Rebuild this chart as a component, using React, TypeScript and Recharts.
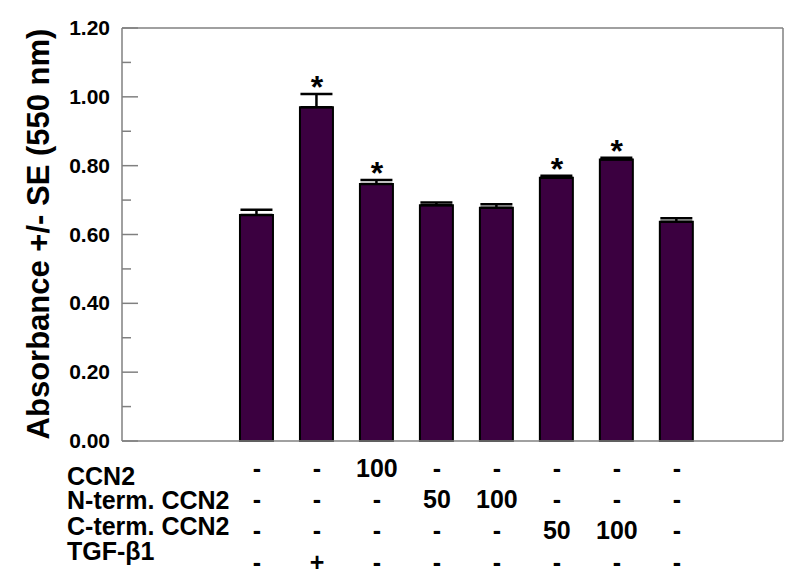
import React from 'react';
import { ComposedChart, Bar, Line, XAxis, YAxis, ErrorBar, ReferenceLine } from 'recharts';

const positions = [0, 1, 2, 3, 4, 5, 6, 7];
const absorbance = [0.657, 0.970, 0.747, 0.685, 0.678, 0.765, 0.818, 0.637];
const stdErr = [0.015, 0.038, 0.011, 0.008, 0.010, 0.006, 0.005, 0.010];
const significant = [false, true, true, false, false, true, true, false];

const rowLabels = ['CCN2', 'N-term. CCN2', 'C-term. CCN2', 'TGF-\u03b21'];
const ccn2Row = ['-', '-', '100', '-', '-', '-', '-', '-'];
const nTermRow = ['-', '-', '-', '50', '100', '-', '-', '-'];
const cTermRow = ['-', '-', '-', '-', '-', '50', '100', '-'];
const tgfRow = ['-', '+', '-', '-', '-', '-', '-', '-'];
const tableRows = [ccn2Row, nTermRow, cTermRow, tgfRow];

const yTicks = [0, 0.1, 0.2, 0.3, 0.4, 0.5, 0.6, 0.7, 0.8, 0.9, 1.0, 1.1, 1.2];
const yTitle = 'Absorbance +/- SE (550 nm)';

const data = positions.map((p, i) => ({
  pos: p,
  value: absorbance[i],
  err: [0, stdErr[i]],
  star: significant[i] ? absorbance[i] + stdErr[i] : null,
}));

const FONT = 'Arial, "Liberation Sans", Helvetica, sans-serif';
const AXIS_GRAY = '#808080';
const BAR_FILL = '#3b0040';

const rowBaselineOffsets = [36, 67, 98, 130];

const YTick = (props: any) => {
  const { x, y, payload } = props;
  const v = payload.value as number;
  const major = Math.round(v * 10) % 2 === 0;
  const ax = x + 12;
  return (
    <g>
      <line x1={ax} x2={ax + (major ? 16 : 9)} y1={y} y2={y} stroke={AXIS_GRAY} strokeWidth={1.5} />
      {major && (
        <text x={x} y={y} dy={7} textAnchor="end" fontFamily={FONT} fontWeight="bold" fontSize={21} fill="#000">
          {v.toFixed(2)}
        </text>
      )}
    </g>
  );
};

const ColumnTick = (props: any) => {
  const { x, y, payload } = props;
  const idx = Math.round(payload.value as number);
  return (
    <g>
      {tableRows.map((row, r) => (
        <text
          key={r}
          x={x}
          y={y + rowBaselineOffsets[r]}
          textAnchor="middle"
          fontFamily={FONT}
          fontWeight="bold"
          fontSize={25}
          fill="#000"
        >
          {row[idx]}
        </text>
      ))}
    </g>
  );
};

const StarDot = (props: any) => {
  const { cx, cy, payload, index } = props;
  if (payload == null || payload.star == null || cx == null || cy == null) return <g key={`s${index}`} />;
  return (
    <text key={`s${index}`} x={cx} y={cy + 4} textAnchor="middle" fontFamily={FONT} fontWeight="bold" fontSize={32} fill="#000">
      *
    </text>
  );
};

const labelBaselines = [485, 509, 535, 560];

export default function App() {
  return (
    <div style={{ position: 'absolute', left: 0, top: 0, width: 800, height: 584, background: '#fff' }}>
      <ComposedChart
        width={800}
        height={584}
        data={data}
        margin={{ top: 28, right: 17, bottom: 142, left: 0 }}
      >
        <XAxis
          dataKey="pos"
          type="number"
          domain={[-2.25, 8.77]}
          ticks={positions}
          interval={0}
          allowDataOverflow
          tickLine={false}
          tickSize={0}
          tickMargin={0}
          height={1}
          axisLine={{ stroke: AXIS_GRAY, strokeWidth: 1.5 }}
          tick={<ColumnTick />}
        />
        <YAxis
          type="number"
          domain={[0, 1.2]}
          ticks={yTicks}
          interval={0}
          width={122}
          tickLine={false}
          tickSize={0}
          tickMargin={12}
          axisLine={{ stroke: AXIS_GRAY, strokeWidth: 1.5 }}
          tick={<YTick />}
        />
        <ReferenceLine y={1.2} stroke={AXIS_GRAY} strokeWidth={1.5} />
        <ReferenceLine x={8.77} stroke={AXIS_GRAY} strokeWidth={1.5} />
        <Bar dataKey="value" fill={BAR_FILL} stroke="#000" strokeWidth={2} barSize={33} isAnimationActive={false}>
          <ErrorBar dataKey="err" width={16} stroke="#000" strokeWidth={2.5} direction="y" />
        </Bar>
        <Line
          dataKey="star"
          stroke="none"
          dot={<StarDot />}
          activeDot={false}
          connectNulls={false}
          isAnimationActive={false}
        />
      </ComposedChart>
      <svg width={800} height={584} style={{ position: 'absolute', left: 0, top: 0, pointerEvents: 'none' }}>
        <text
          x={38}
          y={234}
          transform="rotate(-90, 38, 234)"
          textAnchor="middle"
          dominantBaseline="central"
          fontFamily={FONT}
          fontWeight="bold"
          fontSize={31}
          fill="#000"
        >
          {yTitle}
        </text>
        {rowLabels.map((lab, i) => (
          <text key={lab} x={67} y={labelBaselines[i]} fontFamily={FONT} fontWeight="bold" fontSize={25} fill="#000">
            {lab}
          </text>
        ))}
      </svg>
    </div>
  );
}
